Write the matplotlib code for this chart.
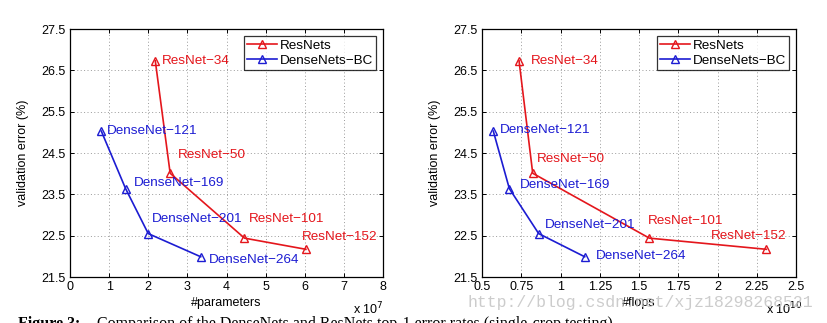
import matplotlib
matplotlib.use("Agg")
import matplotlib.pyplot as plt

plt.rcParams['font.family'] = ['Liberation Sans', 'DejaVu Sans']

# ---- data ----
resnet_names = ["ResNet\u221234", "ResNet\u221250", "ResNet\u2212101", "ResNet\u2212152"]
densenet_names = ["DenseNet\u2212121", "DenseNet\u2212169", "DenseNet\u2212201", "DenseNet\u2212264"]

resnet_params = [2.18, 2.56, 4.46, 6.03]       # x 10^7
resnet_flops = [0.736, 0.823, 1.566, 2.311]    # x 10^10
resnet_err = [26.73, 24.01, 22.44, 22.17]

densenet_params = [0.80, 1.42, 2.00, 3.34]     # x 10^7
densenet_flops = [0.572, 0.674, 0.861, 1.154]  # x 10^10
densenet_err = [25.03, 23.64, 22.55, 21.99]

# label anchor positions (data coords)
res_lab_params = [(2.35, 26.73), (2.76, 24.44), (4.58, 22.90), (5.92, 22.46)]
den_lab_params = [(0.94, 25.03), (1.64, 23.77), (2.08, 22.90), (3.55, 21.91)]
res_lab_flops = [(0.814, 26.73), (0.85, 24.36), (1.555, 22.86), (1.96, 22.48)]
den_lab_flops = [(0.613, 25.06), (0.744, 23.73), (0.899, 22.77), (1.224, 22.01)]

yticks = [21.5, 22.5, 23.5, 24.5, 25.5, 26.5, 27.5]
xticks_params = [0, 1, 2, 3, 4, 5, 6, 7, 8]
xticks_flops = [0.5, 0.75, 1.0, 1.25, 1.5, 1.75, 2.0, 2.25, 2.5]
xticklabels_flops = ["0.5", "0.75", "1", "1.25", "1.5", "1.75", "2", "2.25", "2.5"]

RED = "#e4161c"
BLUE = "#1c1cd2"

W, H = 827, 323
fig = plt.figure(figsize=(W / 100, H / 100), dpi=100)

def make_ax(left_px, right_px):
    top_px, bot_px = 29, 277
    return fig.add_axes([left_px / W, 1 - bot_px / H, (right_px - left_px) / W, (bot_px - top_px) / H])

ax1 = make_ax(70, 383)
ax2 = make_ax(482, 796)

def style(ax, xt, xl, xlim, xlabel, mult):
    ax.set_ylim(21.5, 27.5)
    ax.set_xlim(*xlim)
    ax.set_yticks(yticks)
    ax.set_yticklabels([f"{v:.1f}" for v in yticks])
    ax.set_xticks(xt)
    ax.set_xticklabels(xl)
    ax.tick_params(direction='in', top=True, right=True, length=3, width=0.7,
                   labelsize=9, pad=3, colors='black')
    ax.grid(True, linestyle=(0, (1, 2.5)), color='#9a9a9a', linewidth=0.7)
    ax.set_axisbelow(True)
    for s in ax.spines.values():
        s.set_linewidth(0.9)
        s.set_color('black')
    ax.set_ylabel("validation error (%)", fontsize=9)
    ax.yaxis.set_label_coords(-41 / 313, 0.5)
    ax.set_xlabel(xlabel, fontsize=9)
    ax.xaxis.set_label_coords(0.5, -20 / 248)
    ax.text(0.905, -32 / 248, "x 10$^{%d}$" % mult, transform=ax.transAxes,
            fontsize=9, ha='left', va='center')

style(ax1, xticks_params, [str(v) for v in xticks_params], (0, 8), "#parameters", 7)
style(ax2, xticks_flops, xticklabels_flops, (0.5, 2.5), "#flops", 10)

for ax, rx, dx, rl, dl in [(ax1, resnet_params, densenet_params, res_lab_params, den_lab_params),
                           (ax2, resnet_flops, densenet_flops, res_lab_flops, den_lab_flops)]:
    ax.plot(rx, resnet_err, color=RED, marker='^', markerfacecolor='none', markersize=5.5,
            markeredgewidth=1.0, linewidth=1.2, label="ResNets", zorder=3)
    ax.plot(dx, densenet_err, color=BLUE, marker='^', markerfacecolor='none', markersize=5.5,
            markeredgewidth=1.0, linewidth=1.2, label="DenseNets\u2212BC", zorder=3)
    for name, (x, y) in zip(resnet_names, rl):
        ax.text(x, y, name, color=RED, fontsize=9.7, ha='left', va='center', zorder=4)
    for name, (x, y) in zip(densenet_names, dl):
        ax.text(x, y, name, color=BLUE, fontsize=9.7, ha='left', va='center', zorder=4)
    leg = ax.legend(loc='upper right', fontsize=9.7, frameon=True, fancybox=False,
                    borderpad=0.25, labelspacing=0.2, handlelength=2.2, handletextpad=0.2,
                    borderaxespad=0.5)
    leg.get_frame().set_edgecolor('black')
    leg.get_frame().set_linewidth(0.9)

# watermark
fig.text(467 / W, 1 - 303 / H, "http://blog.csdn.net/xjz18298268521", family='Liberation Mono',
         fontsize=11.9, color='#c4c4c4', ha='left', va='center', alpha=0.85, zorder=10)

# caption (cut off at the bottom)
fig.text(18 / W, 1 - 316.5 / H, "Figure 3:", family='Liberation Serif', fontweight='bold',
         fontsize=11.5, ha='left', va='top')
fig.text(97 / W, 1 - 316.5 / H,
         "Comparison of the DenseNets and ResNets top-1 error rates (single-crop testing)",
         family='Liberation Serif', fontsize=11.5, ha='left', va='top')

fig.savefig("out.png", dpi=100)
